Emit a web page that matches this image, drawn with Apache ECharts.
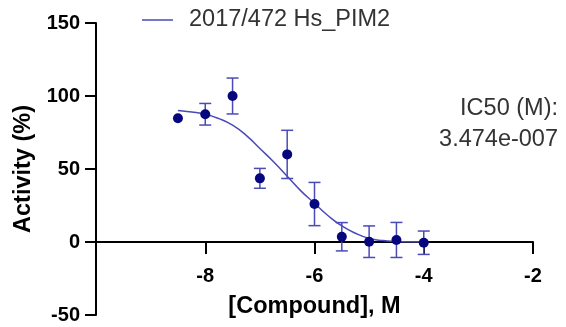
<!DOCTYPE html>
<html>
<head>
<meta charset="utf-8">
<script src="https://cdn.jsdelivr.net/npm/echarts@6/dist/echarts.min.js"></script>
<style>html,body{margin:0;padding:0;background:#fff}#c{width:566px;height:327px}</style>
</head>
<body>
<div id="c"></div>
<script>
// log[Compound] (M), mean activity (%), error (±)
const logConc = [-8.5, -8, -7.5, -7, -6.5, -6, -5.5, -5, -4.5, -4];
const activity = [84.7, 87.5, 100, 43.6, 60, 26, 3.6, 0.2, 1.4, -0.5];
const errors = [0, 7.4, 12.3, 6.8, 16.5, 14.8, 9.7, 10.8, 12, 8];
// fitted curve
const curveX = [-8.5, -8.25, -8, -7.75, -7.5, -7.25, -7, -6.75, -6.5, -6.25, -6, -5.75, -5.5, -5.25, -5, -4.75, -4.5, -4.25, -4];
const curveY = [90, 89, 87.5, 84.5, 80, 73, 64, 55, 45, 35, 26.5, 18, 11, 6, 2.5, 1, 0.4, 0.1, 0];
const xTicks = [-8, -6, -4, -2];
const yTicks = [-50, 0, 50, 100, 150];
const seriesName = '2017/472 Hs_PIM2';
const ic50Lines = ['IC50 (M):', '3.474e-007'];

const chart = echarts.init(document.getElementById('c'), null, {renderer: 'canvas'});
const pts = logConc.map((x, i) => [x, activity[i]]);
const errData = logConc.map((x, i) => [x, activity[i] - errors[i], activity[i] + errors[i]]);
const curve = curveX.map((x, i) => [x, curveY[i]]);
const font = 'Liberation Sans, Arial, sans-serif';

chart.setOption({
  animation: false,
  grid: {left: 96, right: 33, top: 23, bottom: 12, containLabel: false, outerBoundsMode: 'none'},
  legend: {
    data: [{name: seriesName, icon: 'rect'}],
    left: 137, top: 3,
    itemWidth: 31, itemHeight: 1.5,
    textStyle: {fontFamily: font, fontSize: 23.5, color: '#333', padding: [0, 0, 0, 11]},
    selectedMode: false
  },
  xAxis: {
    type: 'value', min: -10, max: -2, interval: 2,
    name: '[Compound], M', nameLocation: 'middle', nameGap: -20, nameMoveOverlap: false,
    nameTextStyle: {fontFamily: font, fontSize: 23.5, fontWeight: 'bold', color: '#000'},
    axisLine: {onZero: true, lineStyle: {color: '#000', width: 2}},
    axisTick: {show: true, length: 12, inside: false, customValues: xTicks, lineStyle: {color: '#000', width: 2}},
    axisLabel: {customValues: xTicks, margin: -49, fontFamily: font, fontSize: 20, fontWeight: 'bold', color: '#000'},
    splitLine: {show: false}
  },
  yAxis: {
    type: 'value', min: -50, max: 150, interval: 50,
    name: 'Activity (%)', nameLocation: 'middle', nameGap: 60,
    nameTextStyle: {fontFamily: font, fontSize: 23.5, fontWeight: 'bold', color: '#000'},
    axisLine: {show: true, lineStyle: {color: '#000', width: 2}},
    axisTick: {show: true, length: 11, customValues: yTicks, lineStyle: {color: '#000', width: 2}},
    axisLabel: {customValues: yTicks, margin: 16, fontFamily: font, fontSize: 20, fontWeight: 'bold', color: '#000'},
    splitLine: {show: false}
  },
  series: [
    {
      name: seriesName, type: 'line', data: curve, smooth: true, symbol: 'none',
      lineStyle: {color: '#4a4ab8', width: 1.5}, itemStyle: {color: '#4a4ab8'}, z: 2
    },
    {
      name: 'err', type: 'custom', data: errData, z: 3,
      renderItem: function (params, api) {
        const x = api.value(0);
        const lo = api.coord([x, api.value(1)]);
        const hi = api.coord([x, api.value(2)]);
        if (Math.abs(hi[1] - lo[1]) < 1) return null;
        const w = 6;
        const style = {stroke: '#4a4ab8', lineWidth: 1.5, fill: null};
        return {
          type: 'group',
          children: [
            {type: 'line', shape: {x1: lo[0], y1: lo[1], x2: hi[0], y2: hi[1]}, style: style},
            {type: 'line', shape: {x1: lo[0] - w, y1: lo[1], x2: lo[0] + w, y2: lo[1]}, style: style},
            {type: 'line', shape: {x1: hi[0] - w, y1: hi[1], x2: hi[0] + w, y2: hi[1]}, style: style}
          ]
        };
      }
    },
    {
      name: 'points', type: 'scatter', data: pts, symbol: 'circle', symbolSize: 10,
      itemStyle: {color: '#06067e', opacity: 1}, z: 4
    }
  ],
  graphic: [
    {type: 'text', right: 8, top: 97, style: {text: ic50Lines[0], fontFamily: font, fontSize: 23.5, fill: '#333', textAlign: 'right'}},
    {type: 'text', right: 8, top: 128, style: {text: ic50Lines[1], fontFamily: font, fontSize: 23.5, fill: '#333', textAlign: 'right'}}
  ]
});
</script>
</body>
</html>
